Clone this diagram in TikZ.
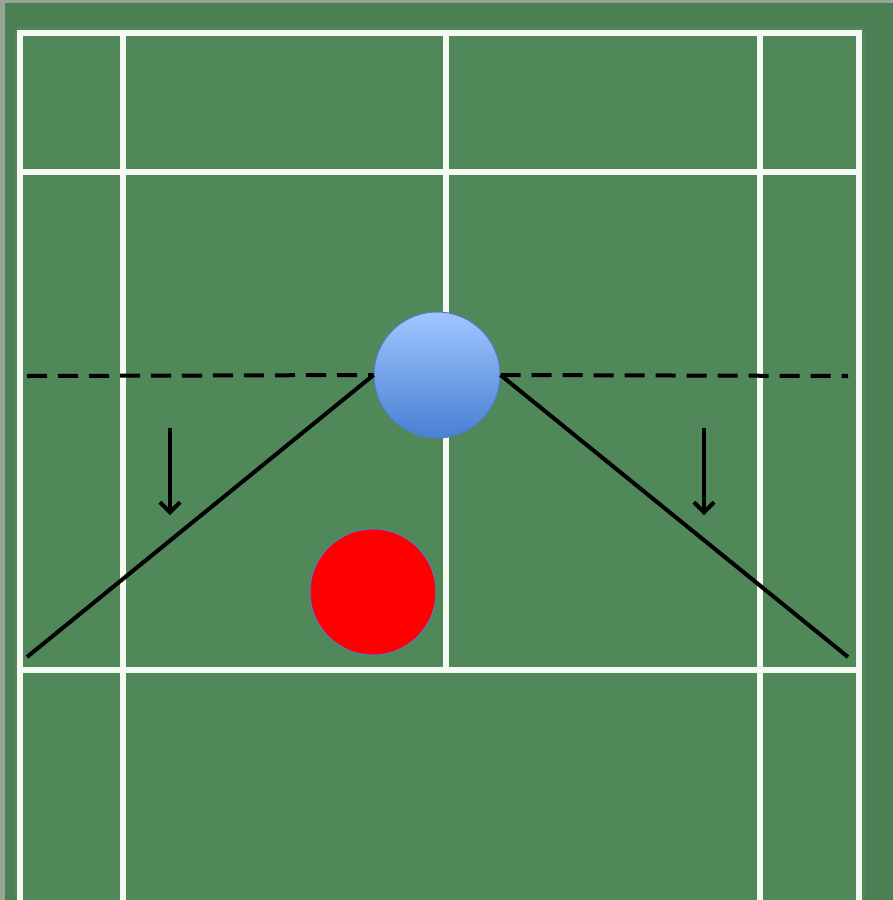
\documentclass[tikz,border=0pt]{standalone}
\usetikzlibrary{arrows.meta}
\definecolor{court}{RGB}{80,136,90}
\definecolor{courtdark}{RGB}{74,128,84}
\definecolor{lineW}{RGB}{245,250,245}
\definecolor{ballTop}{RGB}{160,198,255}
\definecolor{ballBot}{RGB}{72,128,210}
\definecolor{ballEdge}{RGB}{80,125,195}
\definecolor{edgeGray}{RGB}{150,165,150}
\tikzset{
  courtline/.style={draw=lineW, line width=6.5pt},
  playerline/.style={draw=black, line width=4pt},
  dashline/.style={draw=black, line width=4pt, dash pattern=on 20pt off 11pt},
  movearrow/.style={draw=black, line width=4pt, -{Straight Barb[length=10pt,width=20pt]}},
  shuttle/.style={circle, minimum size=126pt, inner sep=0pt, draw=ballEdge, line width=1pt, top color=ballTop, bottom color=ballBot},
  player/.style={circle, minimum size=126pt, inner sep=0pt, draw=ballEdge, line width=1pt, fill=red}
}
\begin{document}
\begin{tikzpicture}[x=1pt,y=-1pt]
\useasboundingbox (0,0) rectangle (893,900);
% background
\fill[court] (0,0) rectangle (893,900);
\fill[courtdark] (0,0) rectangle (893,27);
\fill[courtdark] (0,0) rectangle (15,900);
\fill[courtdark] (865,0) rectangle (893,900);
\fill[edgeGray] (0,0) rectangle (893,3);
\fill[edgeGray] (0,0) rectangle (5,900);
% court lines
\coordinate (TL) at (20,33);
\coordinate (TR) at (859,33);
\coordinate (BL) at (20,900);
\coordinate (BR) at (859,900);
\draw[courtline] (BL) -- (TL) -- (TR) -- (BR);
\draw[courtline] (123,33) -- (123,900);
\draw[courtline] (760,33) -- (760,900);
\draw[courtline] (446,33) -- (446,670);
\draw[courtline] (20,172) -- (859,172);
\draw[courtline] (20,670) -- (859,670);
% shuttle and player
\node[shuttle] (S) at (437,375) {};
\node[player] (P) at (373,592) {};
% dashed line
\coordinate (DL) at (27,376);
\coordinate (DR) at (848,376);
\draw[dashline] (DL) -- (S.west);
\draw[dashline] (S.east) -- (DR);
% angle lines
\coordinate (AL) at (27,657);
\coordinate (AR) at (848,657);
\draw[playerline] (S.west) -- (AL);
\draw[playerline] (S.east) -- (AR);
% arrows
\coordinate (a1s) at (170,428);
\coordinate (a1e) at (170,515);
\coordinate (a2s) at (704,428);
\coordinate (a2e) at (704,515);
\draw[movearrow] (a1s) -- (a1e);
\draw[movearrow] (a2s) -- (a2e);
\end{tikzpicture}
\end{document}
